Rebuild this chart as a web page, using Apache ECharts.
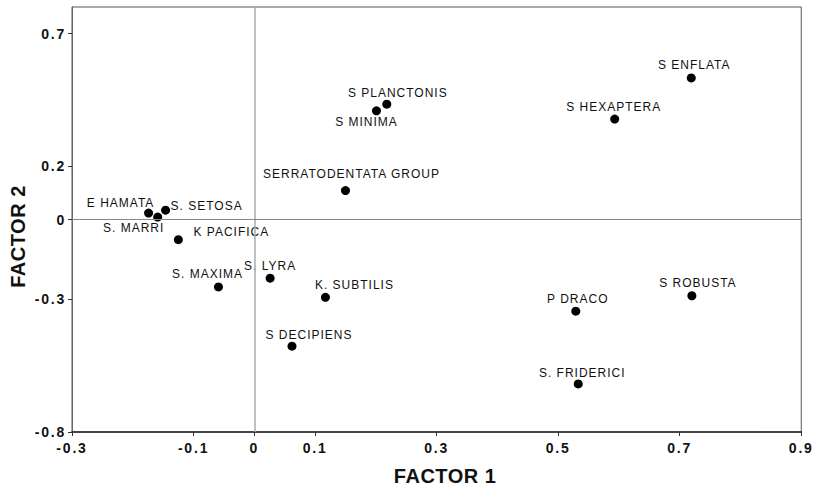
<!DOCTYPE html>
<html>
<head>
<meta charset="utf-8">
<script src="https://cdn.jsdelivr.net/npm/echarts@6/dist/echarts.min.js"></script>
<style>
  html, body { margin: 0; padding: 0; background: #fff; }
  #chart { width: 814px; height: 491px; }
</style>
</head>
<body>
<div id="chart"></div>
<script>
// ---- data ----
const species = [
  'E HAMATA', 'S. SETOSA', 'S. MARRI', 'K PACIFICA', 'S. MAXIMA', 'S. LYRA',
  'K. SUBTILIS', 'S DECIPIENS', 'SERRATODENTATA GROUP', 'S PLANCTONIS', 'S MINIMA',
  'S ENFLATA', 'S HEXAPTERA', 'P DRACO', 'S ROBUSTA', 'S. FRIDERICI'
];
const factor1 = [-0.174, -0.146, -0.159, -0.125, -0.059, 0.026, 0.117, 0.062, 0.150, 0.218, 0.201, 0.719, 0.593, 0.529, 0.720, 0.533];
const factor2 = [0.024, 0.035, 0.009, -0.076, -0.254, -0.221, -0.293, -0.477, 0.109, 0.434, 0.409, 0.533, 0.378, -0.345, -0.287, -0.619];
const xTicks = [-0.3, -0.1, 0, 0.1, 0.3, 0.5, 0.7, 0.9];
const yTicks = [-0.8, -0.3, 0, 0.2, 0.7];

// ---- label placement (style only) ----
const labelOffsets = [
  [-28, -10], [41, -4], [-24, 11], [53, -8], [-11, -13], [0, -12],
  [29, -12], [17, -11], [6, -17], [11, -11], [-10, 11],
  [3, -13], [-1, -12], [2, -12], [6, -13], [4, -11]
];

const points = species.map((n, i) => ({
  name: n,
  value: [factor1[i], factor2[i]],
  label: { offset: labelOffsets[i] }
}));

const fontFam = '"Liberation Sans", Arial, Helvetica, sans-serif';
const chart = echarts.init(document.getElementById('chart'), null, { renderer: 'svg' });

chart.setOption({
  animation: false,
  backgroundColor: '#fff',
  grid: { left: 72, right: 11, top: 7, bottom: 55, show: true, borderColor: '#555', borderWidth: 1 },
  xAxis: {
    type: 'value', min: -0.3, max: 0.9,
    name: 'FACTOR 1', nameLocation: 'middle', nameGap: 34,
    nameTextStyle: { fontFamily: fontFam, fontWeight: 'bold', fontSize: 20, color: '#111', padding: [0, 0, 0, 17] },
    axisLine: { show: true, onZero: false, lineStyle: { color: '#222', width: 1.5 } },
    axisTick: { show: true, length: 4, customValues: xTicks, lineStyle: { color: '#333' } },
    axisLabel: { customValues: xTicks, margin: 9, fontFamily: fontFam, fontWeight: 'bold', fontSize: 14, color: '#111',
      formatter: v => String(Math.round(v * 10) / 10) },
    splitLine: { show: false }
  },
  yAxis: {
    type: 'value', min: -0.8, max: 0.8,
    name: 'FACTOR 2', nameLocation: 'middle', nameGap: 44, nameRotate: 90,
    nameTextStyle: { fontFamily: fontFam, fontWeight: 'bold', fontSize: 20, color: '#111', padding: [0, 34, 0, 0] },
    axisLine: { show: true, onZero: false, lineStyle: { color: '#666', width: 1 } },
    axisTick: { show: true, length: 4, customValues: yTicks, lineStyle: { color: '#333' } },
    axisLabel: { customValues: yTicks, margin: 6, fontFamily: fontFam, fontWeight: 'bold', fontSize: 14, color: '#111',
      padding: [0, 0, 8, 0],
      formatter: v => String(Math.round(v * 10) / 10) },
    splitLine: { show: false }
  },
  series: [{
    type: 'scatter',
    symbol: 'circle',
    symbolSize: 9,
    itemStyle: { color: '#000', opacity: 1 },
    data: points,
    label: {
      show: true,
      position: 'inside',
      formatter: p => p.name,
      fontFamily: fontFam,
      fontSize: 12,
      color: '#111'
    },
    emphasis: { disabled: true },
    markLine: {
      silent: true,
      symbol: ['none', 'none'],
      label: { show: false },
      data: [
        { xAxis: 0, lineStyle: { color: '#aaa', width: 1.5, type: 'solid' } },
        { yAxis: 0, lineStyle: { color: '#888', width: 1.2, type: 'solid' } }
      ]
    }
  }]
});

function applySpacing() {
  document.querySelectorAll('#chart text').forEach(t => {
    const cs = getComputedStyle(t);
    const fs = parseFloat(cs.fontSize);
    const bold = (cs.fontWeight === 'bold' || parseInt(cs.fontWeight) >= 600);
    let ls = 1;
    if (fs >= 18) ls = 0.5;
    else if (bold) ls = 1.8;
    t.style.letterSpacing = ls + 'px';
  });
}
applySpacing();
chart.on('finished', applySpacing);
</script>
</body>
</html>
